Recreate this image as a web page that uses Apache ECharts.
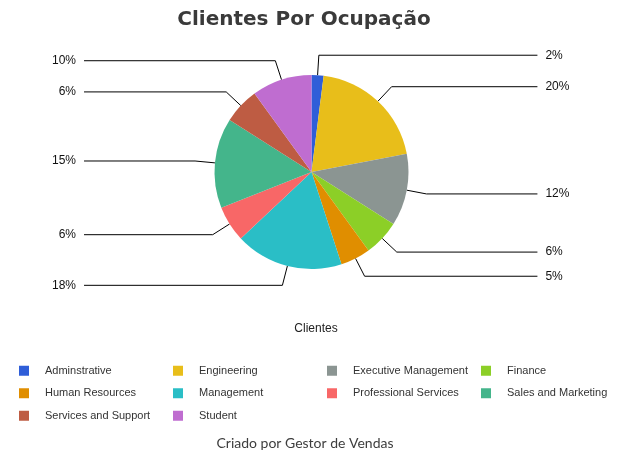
<!DOCTYPE html>
<html>
<head>
<meta charset="utf-8">
<script src="https://cdn.jsdelivr.net/npm/echarts@6/dist/echarts.min.js"></script>
<style>
  html, body { margin: 0; padding: 0; background: #fff; }
  #chart { width: 626px; height: 474px; }
</style>
</head>
<body>
<div id="chart"></div>
<script>
const occupations = [
  'Adminstrative', 'Engineering', 'Executive Management', 'Finance',
  'Human Resources', 'Management', 'Professional Services',
  'Sales and Marketing', 'Services and Support', 'Student'
]
const shares = [2, 20, 12, 6, 5, 18, 6, 15, 6, 10]
const palette = [
  '#2f5ed8', '#e8be1a', '#8b9592', '#8ccf27', '#e08e00',
  '#2abec6', '#f86767', '#44b58b', '#be5c43', '#bf6dd0'
]

const chart = echarts.init(document.getElementById('chart'))

chart.setOption({
  animation: false,
  color: palette,
  title: [
    {
      text: 'Clientes Por Ocupação',
      left: 299,
      textAlign: 'center',
      top: 5,
      textStyle: { fontFamily: 'DejaVu Sans', fontSize: 20, fontWeight: 'bold', color: '#3a3a3a' }
    },
    {
      text: 'Clientes',
      left: 311,
      textAlign: 'center',
      top: 318,
      textStyle: { fontFamily: 'Liberation Sans', fontSize: 12, fontWeight: 'normal', color: '#222' }
    },
    {
      text: 'Criado por Gestor de Vendas',
      left: 300,
      textAlign: 'center',
      top: 431,
      textStyle: { fontFamily: 'Lato', fontSize: 14, fontWeight: 'normal', color: '#3d3d3d' }
    }
  ],
  legend: {
    left: 19,
    top: 361.5,
    width: 620,
    padding: 0,
    icon: 'rect',
    itemWidth: 10,
    itemHeight: 10,
    itemGap: 4,
    selectedMode: false,
    data: occupations,
    textStyle: {
      fontFamily: 'Liberation Sans',
      fontSize: 11,
      color: '#333',
      width: 124,
      lineHeight: 18.5,
      padding: [0, 0, 0, 11]
    }
  },
  series: [{
    type: 'pie',
    name: 'Clientes',
    center: [311.5, 172],
    radius: 97,
    startAngle: 90,
    clockwise: true,
    avoidLabelOverlap: true,
    itemStyle: { borderWidth: 0 },
    label: {
      show: true,
      formatter: p => p.value + '%',
      alignTo: 'labelLine',
      distanceToLabelLine: 8,
      fontFamily: 'Liberation Sans',
      fontSize: 12,
      color: '#111'
    },
    labelLine: {
      show: true,
      length: 20,
      length2: 111,
      smooth: false,
      lineStyle: { color: '#000', width: 1 }
    },
    emphasis: { disabled: true },
    data: occupations.map((name, i) => ({ name, value: shares[i] }))
  }]
})
</script>
</body>
</html>
